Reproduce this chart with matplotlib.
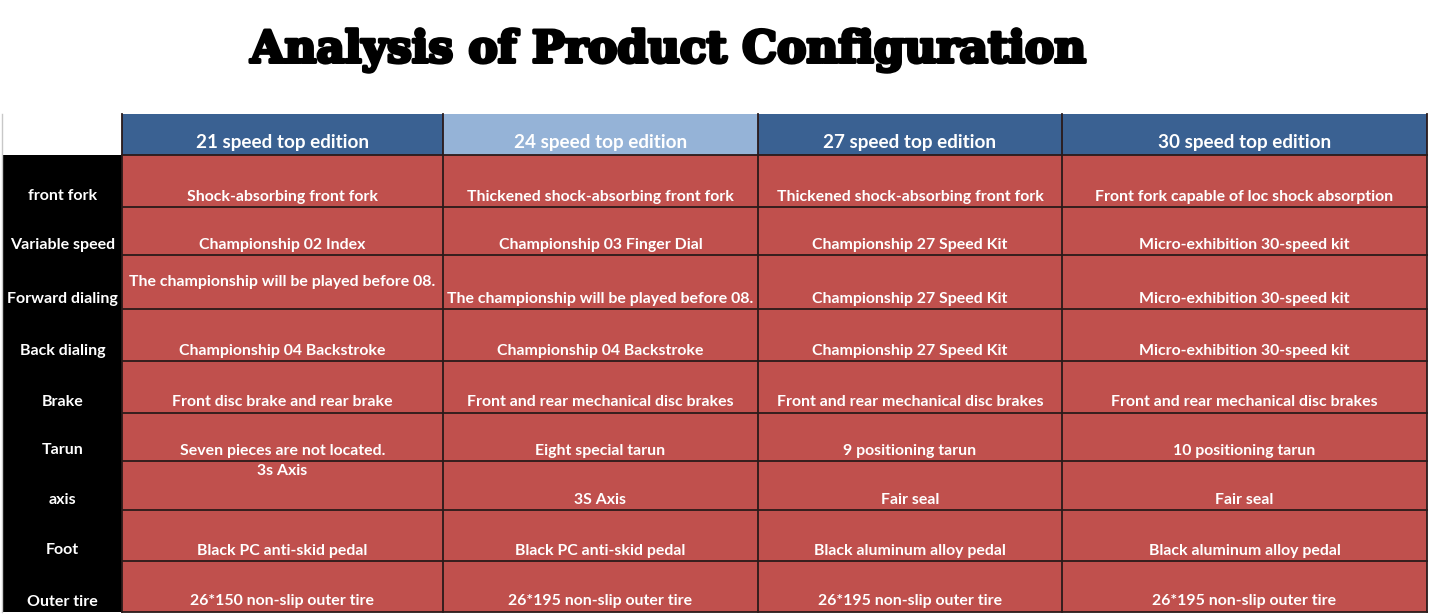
import matplotlib
matplotlib.use("Agg")
import matplotlib.pyplot as plt
from matplotlib.patches import Rectangle
import matplotlib.patheffects as pe

# ---------------- data ----------------
title = "Analysis of Product Configuration"
editions = ["21 speed top edition", "24 speed top edition",
            "27 speed top edition", "30 speed top edition"]
features = ["front fork", "Variable speed", "Forward dialing", "Back dialing",
            "Brake", "Tarun", "axis", "Foot", "Outer tire"]
col_21 = ["Shock-absorbing front fork", "Championship 02 Index",
          "The championship will be played before 08.", "Championship 04 Backstroke",
          "Front disc brake and rear brake", "Seven pieces are not located.",
          "3s Axis", "Black PC anti-skid pedal", "26*150 non-slip outer tire"]
col_24 = ["Thickened shock-absorbing front fork", "Championship 03 Finger Dial",
          "The championship will be played before 08.", "Championship 04 Backstroke",
          "Front and rear mechanical disc brakes", "Eight special tarun",
          "3S Axis", "Black PC anti-skid pedal", "26*195 non-slip outer tire"]
col_27 = ["Thickened shock-absorbing front fork", "Championship 27 Speed Kit",
          "Championship 27 Speed Kit", "Championship 27 Speed Kit",
          "Front and rear mechanical disc brakes", "9 positioning tarun",
          "Fair seal", "Black aluminum alloy pedal", "26*195 non-slip outer tire"]
col_30 = ["Front fork capable of loc shock absorption", "Micro-exhibition 30-speed kit",
          "Micro-exhibition 30-speed kit", "Micro-exhibition 30-speed kit",
          "Front and rear mechanical disc brakes", "10 positioning tarun",
          "Fair seal", "Black aluminum alloy pedal", "26*195 non-slip outer tire"]
columns = [col_21, col_24, col_27, col_30]

# ---------------- layout / style ----------------
W, H = 1429, 614
col_edges = [3, 122, 443, 758, 1062, 1427]
row_edges = [114, 155, 207, 255, 309, 361, 413, 461, 510, 561, 612]
header_colors = ["#3A6192", "#95B3D7", "#3A6192", "#3A6192"]
cell_color = "#C0504D"
line_color = "#2a1a1a"
font = "Lato"
# special vertical placements: (row, col) -> 'middle' or 'top'
special = {(2, 0): "middle", (6, 0): "top"}

fig = plt.figure(figsize=(W / 100, H / 100), dpi=100)
ax = fig.add_axes([0, 0, 1, 1])
ax.set_xlim(0, W)
ax.set_ylim(H, 0)
ax.axis("off")

ax.text(668, 50, title, ha="center", va="center", fontsize=31.6,
        fontweight="heavy", family="DejaVu Serif", color="black",
        path_effects=[pe.withStroke(linewidth=2.5, foreground="black")])

# left border line
ax.plot([2, 2], [row_edges[0], row_edges[-1]], color="#c8c8c8", lw=1)

# header
for j, name in enumerate(editions):
    x0, x1 = col_edges[j + 1], col_edges[j + 2]
    y0, y1 = row_edges[0], row_edges[1]
    ax.add_patch(Rectangle((x0, y0), x1 - x0, y1 - y0, facecolor=header_colors[j],
                           edgecolor="none"))
    ax.text((x0 + x1) / 2, 142.5, name, ha="center", va="center", fontsize=13.6,
            fontweight="bold", family=font, color="white")

# left column
ax.add_patch(Rectangle((col_edges[0], row_edges[1]), col_edges[1] - col_edges[0],
                       row_edges[-1] - row_edges[1], facecolor="black", edgecolor="none"))
for i, feat in enumerate(features):
    yb = row_edges[i + 2]
    ax.text((col_edges[0] + col_edges[1]) / 2, yb - 10.5, feat, ha="center", va="center",
            fontsize=11.5, fontweight="bold", family=font, color="white")

# body
for j, col in enumerate(columns):
    x0, x1 = col_edges[j + 1], col_edges[j + 2]
    for i, txt in enumerate(col):
        y0, y1 = row_edges[i + 1], row_edges[i + 2]
        ax.add_patch(Rectangle((x0, y0), x1 - x0, y1 - y0, facecolor=cell_color,
                               edgecolor="none"))
        mode = special.get((i, j))
        if mode == "middle":
            ty = (y0 + y1) / 2
        elif mode == "top":
            ty = y0 + 10
        else:
            ty = y1 - 10.5
        ax.text((x0 + x1) / 2, ty, txt, ha="center", va="center", fontsize=11.4,
                fontweight="bold", family=font, color="white")

# grid lines
for y in row_edges[1:]:
    ax.plot([col_edges[1], col_edges[-1]], [y, y], color=line_color, lw=1.3)
for x in col_edges[1:]:
    ax.plot([x, x], [row_edges[0], row_edges[-1]], color=line_color, lw=1.3)

fig.savefig("out.png", dpi=100, facecolor="white")
